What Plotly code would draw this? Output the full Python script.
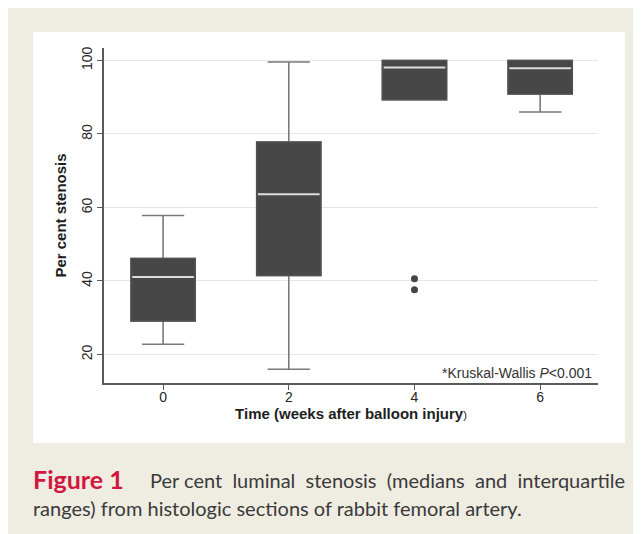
import plotly.graph_objects as go

# ---- data ----
weeks = [0, 2, 4, 6]
q1 = [29.1, 41.5, 89.3, 90.9]
median = [41.1, 63.6, 98.1, 97.9]
q3 = [46.1, 77.8, 100.0, 100.0]
lower_whisker = [22.8, 16.0, 89.3, 86.0]
upper_whisker = [57.8, 99.6, 100.0, 100.0]
outlier_x = [4, 4]
outlier_y = [40.6, 37.6]
y_ticks = [20, 40, 60, 80, 100]
x_ticks = [0, 2, 4, 6]

# page has an 8px body margin; figure coordinates = screen coordinates - 8
OFF = 8
W, H = 633, 526
L, R, T, B = 96, 43, 40, 151
PW, PH = W - L - R, H - T - B

def px_x(px):
    return (px - OFF - L) / PW

def px_y(py):
    return (H - B - (py - OFF)) / PH

BOX_W = 1.02
DARK = "#474747"

fig = go.Figure()

# whiskers (gray)
fig.add_trace(go.Box(
    x=weeks, q1=q1, median=median, q3=q3,
    lowerfence=lower_whisker, upperfence=upper_whisker,
    width=BOX_W, whiskerwidth=0.66,
    line=dict(color="#7a7a7a", width=1.6),
    fillcolor=DARK, boxpoints=False, hoverinfo="skip", showlegend=False,
))
# box bodies (dark)
fig.add_trace(go.Box(
    x=weeks, q1=q1, median=median, q3=q3,
    lowerfence=q1, upperfence=q3,
    width=BOX_W, whiskerwidth=0.66,
    line=dict(color="#505050", width=1.6),
    fillcolor=DARK, boxpoints=False, hoverinfo="skip", showlegend=False,
))
# median lines
mx, my = [], []
for w, m in zip(weeks, median):
    mx += [w - BOX_W / 2 + 0.02, w + BOX_W / 2 - 0.02, None]
    my += [m, m, None]
fig.add_trace(go.Scatter(x=mx, y=my, mode="lines",
                         line=dict(color="#dcdcdc", width=2),
                         hoverinfo="skip", showlegend=False))
# outliers
fig.add_trace(go.Scatter(x=outlier_x, y=outlier_y, mode="markers",
                         marker=dict(color="#454545", size=7),
                         hoverinfo="skip", showlegend=False))

axis_font = dict(family="Liberation Sans, Arial, sans-serif", size=14, color="#262626")
title_font = dict(family="Liberation Sans, Arial, sans-serif", size=15, color="#1e1e1e")

line1 = "Per cent  luminal  stenosis  (medians  and  interquartile"

fig.update_layout(
    width=W, height=H,
    margin=dict(l=L, r=R, t=T, b=B, autoexpand=False),
    paper_bgcolor="#efece2",
    plot_bgcolor="#ffffff",
    boxmode="overlay",
    showlegend=False,
    font=dict(family="Liberation Sans, Arial, sans-serif", color="#222222"),
    xaxis=dict(
        range=[-0.94, 6.92], tickvals=x_ticks, ticktext=[str(t) for t in x_ticks],
        showgrid=False, zeroline=False, showline=True, linecolor="#5a5a5a", linewidth=1.5,
        ticks="outside", ticklen=5, tickcolor="#5a5a5a", tickwidth=1.2,
        tickfont=axis_font, ticklabelstandoff=-5,
        title=dict(text="<b>Time (weeks after balloon injury</b><span style='font-size:11px'>)</span>",
                   font=title_font, standoff=1),
    ),
    yaxis=dict(
        range=[12.24, 103.4], tickvals=y_ticks, tickangle=-90,
        showgrid=True, gridcolor="#e6e6e6", gridwidth=1, zeroline=False,
        showline=True, linecolor="#5a5a5a", linewidth=1.5,
        ticks="outside", ticklen=5, tickcolor="#5a5a5a", tickwidth=1.2,
        tickfont=axis_font,
        title=dict(text="<b>Per cent stenosis</b>", font=title_font, standoff=8),
    ),
    shapes=[
        dict(type="rect", xref="paper", yref="paper", layer="below",
             x0=px_x(33), x1=px_x(625), y0=px_y(443), y1=px_y(32),
             fillcolor="#ffffff", line=dict(width=0)),
    ],
    annotations=[
        dict(text="*Kruskal-Wallis <i>P</i><0.001", xref="paper", yref="paper",
             x=px_x(594), y=px_y(373), xanchor="right", yanchor="middle", showarrow=False,
             font=dict(family="Liberation Sans, Arial, sans-serif", size=14, color="#333333")),
        dict(text="<b>Figure 1</b>", xref="paper", yref="paper",
             x=px_x(31), y=px_y(479), xanchor="left", yanchor="middle", showarrow=False,
             font=dict(family="Lato, sans-serif", size=25, color="#d2173f")),
        dict(text=line1, xref="paper", yref="paper",
             x=px_x(627), y=px_y(480), xanchor="right", yanchor="middle", showarrow=False,
             font=dict(family="Lato, sans-serif", size=20, color="#3a3a3a")),
        dict(text="ranges) from histologic sections of rabbit femoral artery.", xref="paper", yref="paper",
             x=px_x(31), y=px_y(508), xanchor="left", yanchor="middle", showarrow=False,
             font=dict(family="Lato, sans-serif", size=20, color="#3a3a3a")),
    ],
)

fig.write_html("out.html")
